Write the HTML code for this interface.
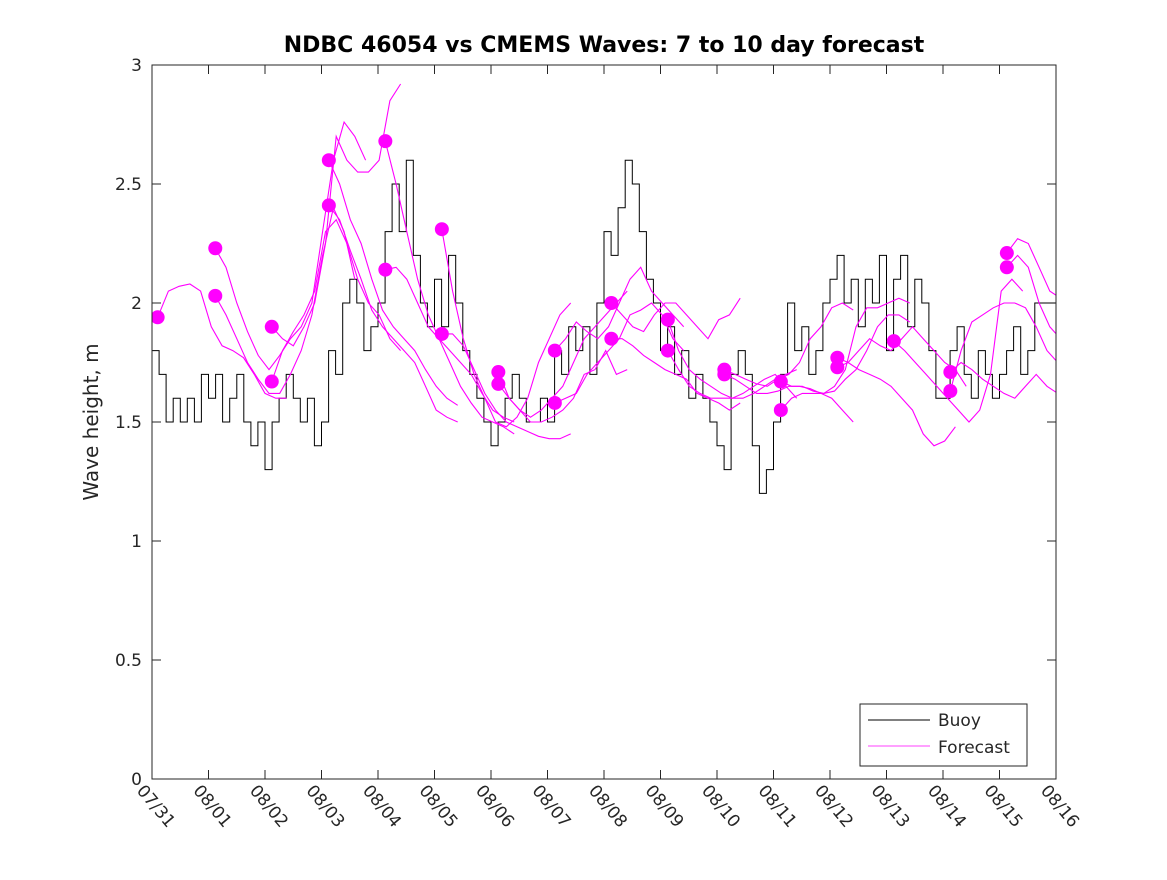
<!DOCTYPE html>
<html><head><meta charset="utf-8"><style>
body{margin:0;background:#fff}
svg text{font-family:"DejaVu Sans","Liberation Sans",sans-serif;fill:#262626}
</style></head><body>
<svg id="chart" width="1167" height="875" xmlns="http://www.w3.org/2000/svg">
<defs><clipPath id="pc"><rect x="152" y="65" width="904" height="714"/></clipPath></defs>
<rect width="1167" height="875" fill="#fff"/>
<text x="604" y="52" text-anchor="middle" font-size="22" font-weight="bold" style="fill:#000">NDBC 46054 vs CMEMS Waves: 7 to 10 day forecast</text>
<text transform="translate(98,422) rotate(-90)" text-anchor="middle" font-size="20">Wave height, m</text>
<g id="axes"></g>
<g id="plot" clip-path="url(#pc)"></g>
<rect x="152" y="65" width="904" height="714" fill="none" stroke="#262626" stroke-width="1"/>
<g>
<rect x="860" y="704" width="167" height="62" fill="#fff" stroke="#262626"/>
<line x1="868" y1="720" x2="930" y2="720" stroke="#000"/>
<text x="938" y="726" font-size="17">Buoy</text>
<line x1="868" y1="746" x2="930" y2="746" stroke="#f0f" stroke-width="0.8"/>
<text x="938" y="753" font-size="17">Forecast</text>
</g>
</svg>
<script>
const xTickLabels=["07/31","08/01","08/02","08/03","08/04","08/05","08/06","08/07","08/08","08/09","08/10","08/11","08/12","08/13","08/14","08/15","08/16"];
const yTicks=[0,0.5,1,1.5,2,2.5,3];
const yTickLabels=["0","0.5","1","1.5","2","2.5","3"];
const buoyStep=0.125;
const buoy=[1.8,1.7,1.5,1.6,1.5,1.6,1.5,1.7,
1.6,1.7,1.5,1.6,1.7,1.5,1.4,1.5,
1.3,1.5,1.6,1.7,1.6,1.5,1.6,1.4,
1.5,1.8,1.7,2.0,2.1,2.0,1.8,1.9,
2.0,2.3,2.5,2.3,2.6,2.2,2.0,1.9,
2.1,1.9,2.2,2.0,1.8,1.7,1.6,1.5,
1.4,1.5,1.6,1.7,1.6,1.5,1.5,1.6,
1.5,1.8,1.7,1.9,1.8,1.9,1.7,2.0,
2.3,2.2,2.4,2.6,2.5,2.3,2.1,2.0,
1.8,1.9,1.7,1.8,1.6,1.7,1.6,1.5,
1.4,1.3,1.7,1.8,1.7,1.4,1.2,1.3,
1.5,1.7,2.0,1.8,1.9,1.7,1.8,2.0,
2.1,2.2,2.0,2.1,1.9,2.1,2.0,2.2,
1.8,2.1,2.2,1.9,2.1,2.0,1.8,1.6,
1.6,1.8,1.9,1.7,1.6,1.8,1.7,1.6,
1.7,1.8,1.9,1.7,1.8,2.0,2.0,2.0];
const fcStep=0.19;
const fcStarts=[0.1,1.12,1.12,2.12,2.12,3.13,3.13,4.13,4.13,5.13,5.13,6.13,6.13,7.13,7.13,8.13,8.13,9.13,9.13,10.13,10.13,11.13,11.13,12.13,12.13,13.13,14.13,14.13,15.13,15.13];
const fcValues=[
[1.94,2.05,2.07,2.08,2.05,1.9,1.82,1.8,1.77,1.7,1.62,1.6,1.6],
[2.23,2.15,2.0,1.88,1.78,1.72,1.78,1.85,1.9,2.0,2.3,2.6,2.76,2.7,2.6],
[2.03,1.95,1.85,1.75,1.68,1.62,1.62,1.7,1.8,1.95,2.2,2.4,2.3,2.1],
[1.9,1.85,1.82,1.9,2.0,2.25,2.7,2.6,2.55,2.55,2.6,2.85,2.92],
[1.67,1.8,1.88,1.95,2.05,2.3,2.35,2.25,2.1,2.0,1.95,1.85,1.8],
[2.6,2.5,2.35,2.25,2.1,1.97,1.9,1.85,1.8,1.72,1.65,1.6,1.57],
[2.41,2.35,2.22,2.1,1.97,1.9,1.85,1.8,1.75,1.65,1.55,1.52,1.5],
[2.68,2.5,2.3,2.1,1.95,1.85,1.75,1.65,1.58,1.52,1.5,1.48,1.45],
[2.14,2.15,2.1,2.0,1.9,1.85,1.8,1.75,1.7,1.62,1.55,1.52,1.5],
[2.31,2.05,1.85,1.7,1.6,1.5,1.48,1.52,1.6,1.75,1.85,1.95,2.0],
[1.87,1.87,1.82,1.72,1.62,1.55,1.5,1.48,1.46,1.44,1.43,1.43,1.45],
[1.71,1.6,1.55,1.52,1.55,1.6,1.65,1.75,1.85,1.9,1.95,2.0,2.05],
[1.66,1.6,1.55,1.5,1.5,1.52,1.55,1.6,1.7,1.72,1.8,1.7,1.72],
[1.8,1.85,1.92,1.88,1.85,1.9,2.0,2.1,2.15,2.05,2.0,1.95,1.9],
[1.58,1.6,1.62,1.7,1.75,1.8,1.85,1.95,1.97,2.0,1.95,1.85,1.8],
[2.0,1.95,1.9,1.88,1.95,2.0,2.0,1.95,1.9,1.85,1.93,1.95,2.02],
[1.85,1.85,1.82,1.78,1.75,1.72,1.7,1.68,1.62,1.6,1.58,1.55,1.58],
[1.93,1.8,1.72,1.68,1.65,1.62,1.6,1.6,1.62,1.65,1.68,1.7,1.72],
[1.8,1.72,1.65,1.62,1.6,1.6,1.6,1.62,1.65,1.68,1.7,1.65,1.6],
[1.72,1.7,1.68,1.66,1.65,1.68,1.7,1.75,1.85,1.9,1.98,2.0,1.97],
[1.7,1.68,1.65,1.62,1.62,1.63,1.65,1.65,1.64,1.62,1.6,1.55,1.5],
[1.67,1.65,1.65,1.63,1.62,1.65,1.72,1.9,1.98,1.98,2.0,2.02,2.0],
[1.55,1.6,1.62,1.62,1.62,1.63,1.68,1.72,1.8,1.9,1.95,1.95,1.92],
[1.77,1.75,1.72,1.7,1.68,1.65,1.6,1.55,1.45,1.4,1.42,1.48],
[1.73,1.75,1.8,1.85,1.82,1.8,1.85,1.9,1.85,1.8,1.75,1.72,1.65],
[1.84,1.8,1.75,1.7,1.65,1.6,1.55,1.5,1.55,1.7,2.05,2.1,2.05],
[1.71,1.75,1.72,1.68,1.65,1.62,1.6,1.65,1.7,1.65,1.62,1.7,1.8],
[1.63,1.8,1.92,1.95,1.98,2.0,2.0,1.98,1.9,1.8,1.75,1.7,1.6],
[2.21,2.27,2.25,2.15,2.05,2.02],
[2.15,2.2,2.15,2.0,1.9,1.85]];
const X0=152,X1=1056,Y0=779,Y1=65,DAYS=16,YMAX=3;
const xs=d=>X0+(d/DAYS)*(X1-X0);
const ys=v=>Y0-(v/YMAX)*(Y0-Y1);
const NS="http://www.w3.org/2000/svg";
const plot=document.getElementById('plot');
const axes=document.getElementById('axes');
function mk(t,a){const e=document.createElementNS(NS,t);for(const k in a)e.setAttribute(k,a[k]);return e;}
xTickLabels.forEach((lab,i)=>{
  const x=xs(i);
  const g=mk('g',{});
  
  
  g.appendChild(mk('line',{x1:x,y1:Y0,x2:x,y2:Y0-9,stroke:'#262626'}));
  g.appendChild(mk('line',{x1:x,y1:Y1,x2:x,y2:Y1+9,stroke:'#262626'}));
  const t=mk('text',{x:0,y:0,'font-size':17,transform:`translate(${x-16},${Y0+12}) rotate(50)`});
  t.textContent=lab;g.appendChild(t);axes.appendChild(g);
});
yTicks.forEach((v,i)=>{
  const y=ys(v);
  const g=mk('g',{});
  
  
  g.appendChild(mk('line',{x1:X0,y1:y,x2:X0+9,y2:y,stroke:'#262626'}));
  g.appendChild(mk('line',{x1:X1,y1:y,x2:X1-9,y2:y,stroke:'#262626'}));
  const t=mk('text',{x:X0-10,y:y+6,'font-size':17,'text-anchor':'end'});
  t.textContent=yTickLabels[i];g.appendChild(t);axes.appendChild(g);
});
let d='';
buoy.forEach((v,i)=>{const x1=xs(i*buoyStep),x2=xs((i+1)*buoyStep),y=ys(v);d+=(i?'L':'M')+x1.toFixed(1)+','+y.toFixed(1)+'L'+x2.toFixed(1)+','+y.toFixed(1);});
const bl=mk('path',{d:d,fill:'none',stroke:'#000','stroke-width':1});


plot.appendChild(bl);
fcValues.forEach((vals,k)=>{
  const s=fcStarts[k];
  const p=vals.map((v,i)=>(i?'L':'M')+xs(s+i*fcStep).toFixed(1)+','+ys(v).toFixed(1)).join('');
  const l=mk('path',{d:p,fill:'none',stroke:'#f0f','stroke-width':1.1});
  
  
  plot.appendChild(l);
  const c=mk('circle',{cx:xs(s),cy:ys(vals[0]),r:7,fill:'#f0f'});
  
  
  plot.appendChild(c);
});
</script>
</body></html>
